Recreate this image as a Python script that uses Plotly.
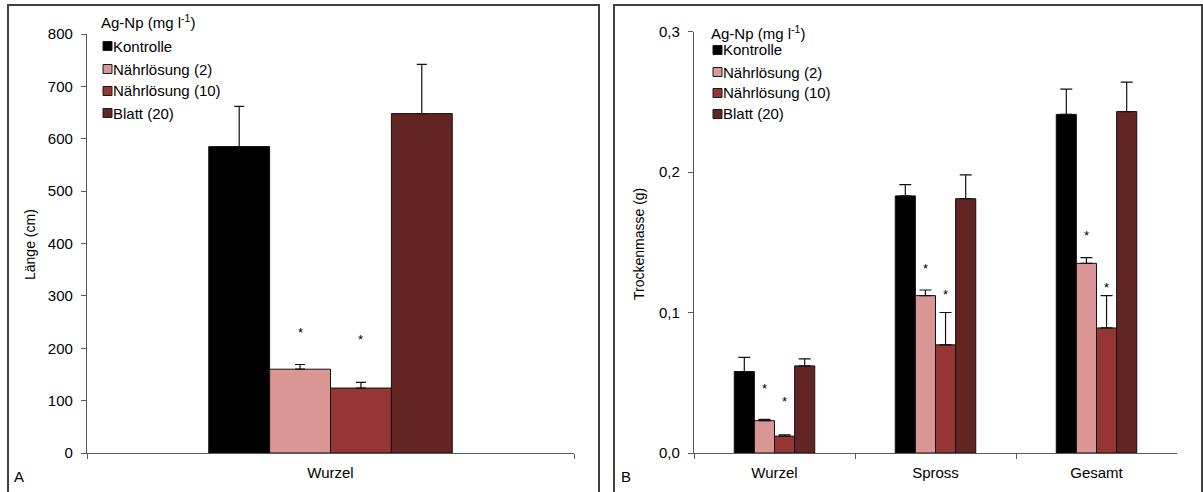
import plotly.graph_objects as go

W, H = 1203, 492

# ---------------- data ----------------
groups = ["Kontrolle", "Nährlösung (2)", "Nährlösung (10)", "Blatt (20)"]
colors = ["#000000", "#D99694", "#963634", "#632523"]

# Panel A: root length (cm)
cats_a = ["Wurzel"]
laenge_kontrolle = [585]
laenge_n2 = [160]
laenge_n10 = [124]
laenge_blatt = [648]
laenge_err_kontrolle = [77]
laenge_err_n2 = [9]
laenge_err_n10 = [11]
laenge_err_blatt = [94]
stern_a_n2 = [230]
stern_a_n10 = [216]

# Panel B: dry mass (g)
cats_b = ["Wurzel", "Spross", "Gesamt"]
masse_kontrolle = [0.058, 0.183, 0.241]
masse_n2 = [0.023, 0.112, 0.135]
masse_n10 = [0.012, 0.077, 0.089]
masse_blatt = [0.062, 0.181, 0.243]
masse_err_kontrolle = [0.010, 0.008, 0.018]
masse_err_n2 = [0.001, 0.004, 0.004]
masse_err_n10 = [0.001, 0.023, 0.023]
masse_err_blatt = [0.005, 0.017, 0.021]
stern_b_n2 = [0.046, 0.131, 0.155]
stern_b_n10 = [0.037, 0.113, 0.118]

yticks_a = [0, 100, 200, 300, 400, 500, 600, 700, 800]
yticks_b = [0.0, 0.1, 0.2, 0.3]

BARGAP = 0.5
FAM = "Liberation Sans, Arial, sans-serif"

def px(x):
    return x / W

def py(y):
    return 1 - y / H

fig = go.Figure()

series_a = [
    (laenge_kontrolle, laenge_err_kontrolle),
    (laenge_n2, laenge_err_n2),
    (laenge_n10, laenge_err_n10),
    (laenge_blatt, laenge_err_blatt),
]
series_b = [
    (masse_kontrolle, masse_err_kontrolle),
    (masse_n2, masse_err_n2),
    (masse_n10, masse_err_n10),
    (masse_blatt, masse_err_blatt),
]

for i, (vals, errs) in enumerate(series_a):
    fig.add_trace(go.Bar(
        x=cats_a, y=vals, name=groups[i], marker_color=colors[i],
        marker_line=dict(color="#111111", width=1),
        error_y=dict(type="data", symmetric=False, array=errs,
                     arrayminus=[0] * len(errs), color="#111111",
                     thickness=1.2, width=5),
        xaxis="x", yaxis="y", showlegend=False, offsetgroup=str(i),
    ))

for i, (vals, errs) in enumerate(series_b):
    fig.add_trace(go.Bar(
        x=cats_b, y=vals, name=groups[i], marker_color=colors[i],
        marker_line=dict(color="#111111", width=1),
        error_y=dict(type="data", symmetric=False, array=errs,
                     arrayminus=[0] * len(errs), color="#111111",
                     thickness=1.2, width=6),
        xaxis="x2", yaxis="y2", showlegend=False, offsetgroup=str(i),
    ))

# offsets of the bars inside a group (category units)
n = len(groups)
bw = (1 - BARGAP) / n
offs = [-(1 - BARGAP) / 2 + bw * (k + 0.5) for k in range(n)]

annotations = []
star_font = dict(family=FAM, size=13, color="#000")
for ref, stars, k in (("", stern_a_n2, 1), ("", stern_a_n10, 2),
                      ("2", stern_b_n2, 1), ("2", stern_b_n10, 2)):
    for idx, v in enumerate(stars):
        annotations.append(dict(x=idx + offs[k], y=v, xref="x" + ref, yref="y" + ref,
                                text="*", showarrow=False, font=star_font,
                                yanchor="middle"))

font = dict(family=FAM, size=15, color="#000")
title_font = dict(family=FAM, size=14, color="#000")

# axis titles
annotations.append(dict(x=px(30), y=py(245), xref="paper", yref="paper",
                        text="Länge (cm)", textangle=-90, showarrow=False,
                        font=title_font, xanchor="center", yanchor="middle"))
annotations.append(dict(x=px(639), y=py(244), xref="paper", yref="paper",
                        text="Trockenmasse (g)", textangle=-90, showarrow=False,
                        font=title_font, xanchor="center", yanchor="middle"))
# panel letters
annotations.append(dict(x=px(12), y=py(476), xref="paper", yref="paper", text="A",
                        showarrow=False, font=font, xanchor="left", yanchor="middle"))
annotations.append(dict(x=px(619), y=py(476), xref="paper", yref="paper", text="B",
                        showarrow=False, font=font, xanchor="left", yanchor="middle"))

shapes = []
# legends (drawn per panel)
legend_title = "Ag-Np (mg l<sup>-1</sup>)"
def add_legend(x0, ytitle, yrows):
    annotations.append(dict(x=px(x0 - 1), y=py(ytitle), xref="paper", yref="paper",
                            text=legend_title, showarrow=False, font=font,
                            xanchor="left", yanchor="middle"))
    for k, g in enumerate(groups):
        yc = yrows[k]
        shapes.append(dict(type="rect", xref="paper", yref="paper",
                           x0=px(x0 + 3), x1=px(x0 + 12), y0=py(yc + 4.5), y1=py(yc - 4.5),
                           fillcolor=colors[k], line=dict(color="#1a1a1a", width=1)))
        annotations.append(dict(x=px(x0 + 11), y=py(yc), xref="paper", yref="paper",
                                text=g, showarrow=False, font=font,
                                xanchor="left", yanchor="middle"))

add_legend(100, 22, [46, 69, 91, 113])
add_legend(710, 32, [50, 72, 93, 114])

# panel borders
shapes.append(dict(type="rect", xref="paper", yref="paper",
                   x0=px(8), x1=px(599), y0=py(5), y1=-0.1,
                   line=dict(color="#404040", width=2), fillcolor="rgba(0,0,0,0)"))
shapes.append(dict(type="rect", xref="paper", yref="paper",
                   x0=px(614), x1=px(1202), y0=py(5), y1=-0.1,
                   line=dict(color="#404040", width=2), fillcolor="rgba(0,0,0,0)"))

axis_common = dict(showline=True, linecolor="#595959", linewidth=1.3,
                   ticks="outside", tickcolor="#595959", ticklen=5,
                   showgrid=False, zeroline=False, tickfont=font, automargin=False)

fig.update_layout(
    width=W, height=H,
    margin=dict(l=0, r=0, t=0, b=0),
    paper_bgcolor="white", plot_bgcolor="white",
    barmode="group", bargap=BARGAP, bargroupgap=0,
    separators=",.",
    xaxis=dict(domain=[px(87), px(574)], anchor="y", type="category",
               tickson="boundaries", ticklabelstandoff=6, **axis_common),
    yaxis=dict(domain=[py(453), py(34)], anchor="x", range=[0, 800],
               tickvals=yticks_a, ticklabelstandoff=5, **axis_common),
    xaxis2=dict(domain=[px(694), px(1177)], anchor="y2", type="category",
                tickson="boundaries", ticklabelstandoff=6, **axis_common),
    yaxis2=dict(domain=[py(453), py(31.5)], anchor="x2", range=[0, 0.3],
                tickvals=yticks_b, tickformat=".1f", ticklabelstandoff=5,
                **axis_common),
    annotations=annotations,
    shapes=shapes,
    font=font,
)

fig.write_html("out.html")
